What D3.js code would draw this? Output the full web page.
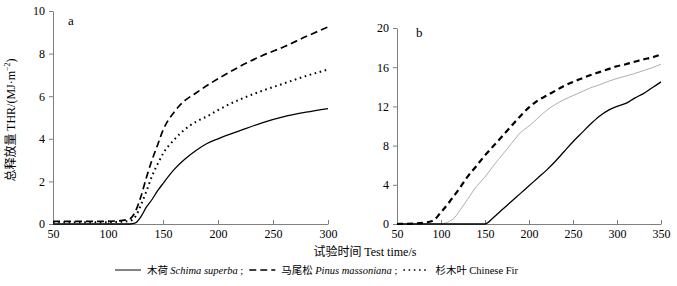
<!DOCTYPE html>
<html>
<head>
<meta charset="utf-8">
<script src="https://cdn.jsdelivr.net/npm/d3@7"></script>
<style>
  body { margin: 0; background: #fff; }
  svg { display: block; }
  .tick text { font-family: "Liberation Serif", serif; font-size: 12px; fill: #000; }
  .domain, .tick line { stroke: #808080; }
</style>
</head>
<body>
<div id="chart"></div>
<script>
// panel a: 0-300 s
const timeA   = [50, 70, 90, 110, 120, 125, 130, 135, 140, 145, 150, 160, 170, 180, 190, 200, 220, 240, 260, 280, 300];
const schimaA = [0, 0, 0, 0, 0, 0.05, 0.35, 0.8, 1.15, 1.55, 1.9, 2.55, 3.05, 3.45, 3.78, 4.0, 4.38, 4.75, 5.04, 5.25, 5.42];
const pinusA  = [0.12, 0.12, 0.12, 0.15, 0.25, 0.6, 1.3, 2.2, 3.0, 3.7, 4.4, 5.25, 5.8, 6.15, 6.5, 6.82, 7.4, 7.9, 8.32, 8.8, 9.25];
const firA    = [0.08, 0.08, 0.08, 0.1, 0.15, 0.35, 0.9, 1.55, 2.25, 2.8, 3.3, 3.95, 4.45, 4.8, 5.05, 5.35, 5.85, 6.25, 6.6, 6.95, 7.25];

// panel b: 0-350 s
const timeB   = [50, 70, 90, 100, 110, 115, 120, 130, 140, 150, 160, 170, 180, 190, 200, 210, 220, 230, 240, 250, 260, 270, 280, 290, 300, 310, 320, 330, 340, 350];
const schimaB = [0, 0, 0, 0, 0, 0, 0, 0, 0, 0, 0.7, 1.5, 2.3, 3.1, 3.9, 4.7, 5.5, 6.4, 7.4, 8.4, 9.3, 10.2, 11.0, 11.6, 12.0, 12.3, 12.85, 13.3, 13.9, 14.5];
const pinusB  = [0, 0.05, 0.3, 1.2, 2.3, 2.9, 3.5, 4.8, 5.9, 7.0, 8.0, 9.0, 10.0, 11.0, 11.9, 12.6, 13.1, 13.6, 14.1, 14.5, 14.85, 15.2, 15.5, 15.8, 16.1, 16.3, 16.55, 16.8, 17.0, 17.3];
const firB    = [0, 0, 0, 0, 0.3, 0.6, 1.2, 2.5, 3.8, 4.8, 6.0, 7.1, 8.2, 9.3, 10.0, 10.8, 11.6, 12.2, 12.7, 13.1, 13.5, 13.9, 14.2, 14.55, 14.85, 15.1, 15.35, 15.65, 15.95, 16.3];

const ticksXA = [50, 100, 150, 200, 250, 300];
const ticksYA = [0, 2, 4, 6, 8, 10];
const ticksXB = [50, 100, 150, 200, 250, 300, 350];
const ticksYB = [0, 4, 8, 12, 16, 20];

const W = 677, H = 286;
const svg = d3.select("#chart").append("svg").attr("width", W).attr("height", H);

const serif = '"Liberation Serif", serif';
const cjk = '"Noto Sans CJK SC", sans-serif';

// line styles
const styles = {
    schima: {stroke: "#000", width: 1.3, dash: null},
    pinus:  {stroke: "#000", width: 1.7, dash: "7,4"},
    fir:    {stroke: "#000", width: 2, dash: "1.6,3.6"},
    firB:   {stroke: "#999", width: 0.8, dash: null},
    pinusB: {stroke: "#000", width: 2.2, dash: "6,4"}
};

function drawPanel(o){
    const x = d3.scaleLinear().domain(o.xDomain).range(o.xRange);
    const y = d3.scaleLinear().domain(o.yDomain).range(o.yRange);

    svg.append("g")
        .attr("transform", "translate(0," + o.yRange[0] + ")")
        .call(d3.axisBottom(x).tickValues(o.xTicks).tickSize(-4).tickSizeOuter(0).tickPadding(5));

    svg.append("g")
        .attr("transform", "translate(" + o.xRange[0] + ",0)")
        .call(d3.axisLeft(y).tickValues(o.yTicks).tickSize(4).tickSizeOuter(0).tickPadding(4));

    o.series.forEach(s => {
        const line = d3.line()
            .x((d, i) => x(o.time[i]))
            .y(d => y(d))
            .curve(d3.curveMonotoneX);
        svg.append("path")
            .datum(s.values)
            .attr("d", line)
            .attr("fill", "none")
            .attr("stroke", s.style.stroke)
            .attr("stroke-width", s.style.width)
            .attr("stroke-dasharray", s.style.dash)
            .attr("stroke-linejoin", "round");
    });

    svg.append("text")
        .attr("x", o.labelPos[0]).attr("y", o.labelPos[1])
        .attr("font-family", serif).attr("font-size", 13)
        .text(o.label);
}

drawPanel({
    xDomain: [50, 300], xRange: [53, 328],
    yDomain: [0, 10], yRange: [224, 11],
    xTicks: ticksXA, yTicks: ticksYA,
    time: timeA,
    series: [
        {values: firA, style: styles.fir},
        {values: pinusA, style: styles.pinus},
        {values: schimaA, style: styles.schima}
    ],
    label: "a", labelPos: [68, 25]
});

drawPanel({
    xDomain: [50, 350], xRange: [397, 661],
    yDomain: [0, 20], yRange: [224, 28],
    xTicks: ticksXB, yTicks: ticksYB,
    time: timeB,
    series: [
        {values: firB, style: styles.firB},
        {values: pinusB, style: styles.pinusB},
        {values: schimaB, style: styles.schima}
    ],
    label: "b", labelPos: [416, 37]
});

// y axis title
const yt = svg.append("text")
    .attr("transform", "translate(15,120) rotate(-90)")
    .attr("text-anchor", "middle")
    .attr("font-size", 12);
yt.append("tspan").attr("font-family", cjk).text("总释放量 ");
yt.append("tspan").attr("font-family", serif).text("THR/(MJ·m");
yt.append("tspan").attr("font-family", serif).attr("font-size", 8).attr("dy", -5).text("−2");
yt.append("tspan").attr("font-family", serif).attr("dy", 5).text(")");

// x axis title
const xt = svg.append("text")
    .attr("x", 365).attr("y", 256)
    .attr("text-anchor", "middle")
    .attr("font-size", 12);
xt.append("tspan").attr("font-family", cjk).text("试验时间 ");
xt.append("tspan").attr("font-family", serif).text("Test time/s");

// legend
const legendItems = [
    {cn: "木荷", latin: "Schima superba", italic: true, style: styles.schima, end: " ;"},
    {cn: "马尾松", latin: "Pinus massoniana", italic: true, style: styles.pinus, end: " ;"},
    {cn: "杉木叶", latin: "Chinese Fir", italic: false, style: styles.fir, end: ""}
];
const legendY = 274;
let lx = 115;
legendItems.forEach(item => {
    svg.append("line")
        .attr("x1", lx).attr("x2", lx + 26)
        .attr("y1", legendY - 4).attr("y2", legendY - 4)
        .attr("stroke", "#000")
        .attr("stroke-width", item.style.width * 0.75)
        .attr("stroke-dasharray", item.style.dash);
    lx += 32;
    const t = svg.append("text").attr("x", lx).attr("y", legendY).attr("font-size", 10.5);
    t.append("tspan").attr("font-family", cjk).text(item.cn + " ");
    t.append("tspan").attr("font-family", serif)
        .attr("font-style", item.italic ? "italic" : "normal")
        .text(item.latin);
    t.append("tspan").attr("font-family", serif).text(item.end);
    lx += t.node().getComputedTextLength() + 6;
});
</script>
</body>
</html>
